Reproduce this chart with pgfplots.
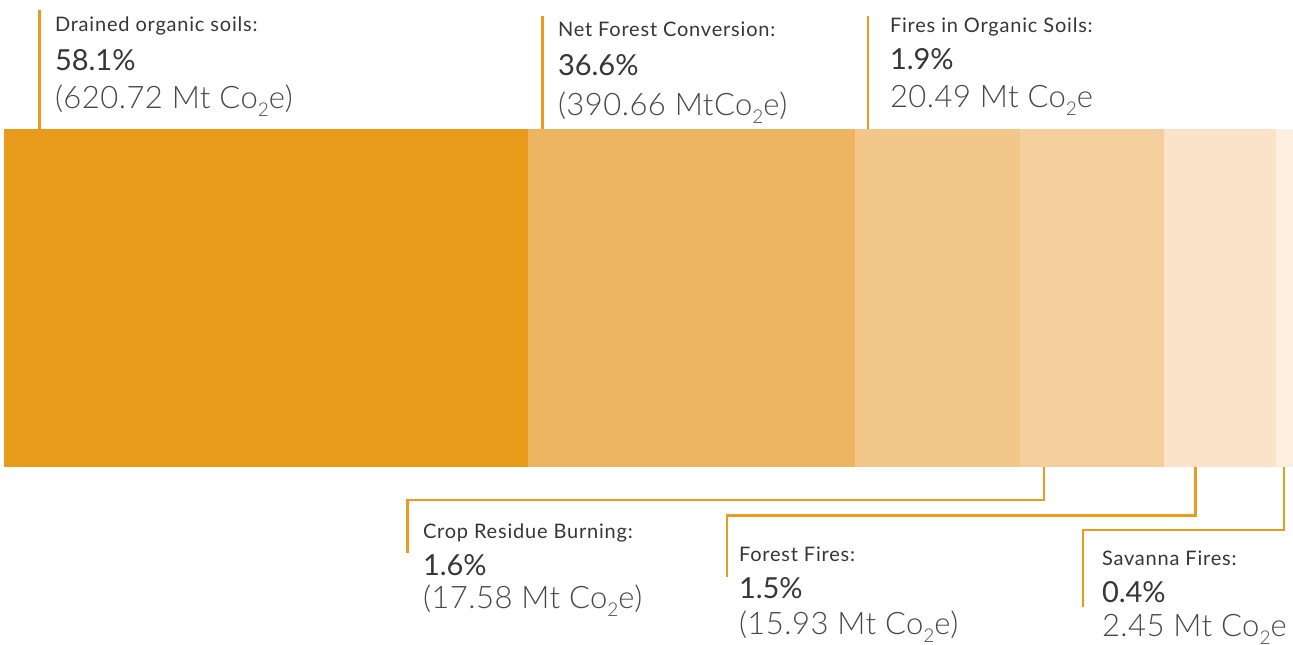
\documentclass[border=0pt]{standalone}
\usepackage{fontspec}
\setmainfont{Lato}
\newfontfamily\lightfont{Lato Light}
\usepackage{pgfplots}
\pgfplotsset{compat=1.18}
\definecolor{s1}{HTML}{E89B1A}
\definecolor{s2}{HTML}{EDB461}
\definecolor{s3}{HTML}{F3C68A}
\definecolor{s4}{HTML}{F4CF9E}
\definecolor{s5}{HTML}{FAE3C6}
\definecolor{s6}{HTML}{FCEFDF}
\definecolor{lead}{HTML}{E99A1F}
\definecolor{lab}{HTML}{363636}
\definecolor{mt}{HTML}{484848}
\newcommand{\lbl}[1]{{\fontsize{20bp}{23bp}\selectfont\addfontfeatures{LetterSpace=4}\color{lab}#1}}
\newcommand{\pct}[1]{{\fontsize{29bp}{33bp}\selectfont\color{lab}#1}}
\newcommand{\mtv}[1]{{\lightfont\fontsize{31bp}{35bp}\selectfont\addfontfeatures{LetterSpace=1.5}\color{mt}#1}}
\newcommand{\cotwo}{Co\raisebox{-0.26em}{\fontsize{19bp}{21bp}\selectfont 2}e}
\tikzset{ld/.style={line width=2.4bp, draw=lead}, tx/.style={anchor=base west, inner sep=0pt, outer sep=0pt}}
\begin{document}
\begin{tikzpicture}
\begin{axis}[
  at={(0,0)}, anchor=south west,
  width=1293bp, height=645bp, scale only axis,
  xmin=0, xmax=1293, ymin=0, ymax=645, y dir=reverse,
  axis lines=none, ticks=none, clip=false,
  xbar stacked, bar width=338,
]
\addplot[draw=none, fill=none] coordinates {(4,298)};
\addplot[draw=none, fill=s1] coordinates {(524,298)};
\addplot[draw=none, fill=s2] coordinates {(327,298)};
\addplot[draw=none, fill=s3] coordinates {(165,298)};
\addplot[draw=none, fill=s4] coordinates {(144,298)};
\addplot[draw=none, fill=s5] coordinates {(112,298)};
\addplot[draw=none, fill=s6] coordinates {(17,298)};

\draw[ld] (39.5,10) -- (39.5,129);
\draw[ld] (542.5,16) -- (542.5,166);
\draw[ld] (868,16) -- (868,166);
\draw[ld] (1044,446) -- (1044,500) -- (407.5,500) -- (407.5,553);
\draw[ld] (1195.5,454) -- (1195.5,515.5) -- (727,515.5) -- (727,577);
\draw[ld] (1284,454) -- (1284,530) -- (1083,530) -- (1083,607);

\node[tx] at (55,32) {\lbl{Drained organic soils:}};
\node[tx] at (55,71) {\pct{58.1\%}};
\node[tx] at (55,108) {\mtv{(620.72 Mt \cotwo)}};

\node[tx] at (558,37) {\lbl{Net Forest Conversion:}};
\node[tx] at (558,76) {\pct{36.6\%}};
\node[tx] at (558,115) {\mtv{(390.66 Mt\cotwo)}};

\node[tx] at (890,33) {\lbl{Fires in Organic Soils:}};
\node[tx] at (890,70) {\pct{1.9\%}};
\node[tx] at (890,107) {\mtv{20.49 Mt \cotwo}};

\node[tx] at (423,538) {\lbl{Crop Residue Burning:}};
\node[tx] at (423,575) {\pct{1.6\%}};
\node[tx] at (423,608) {\mtv{(17.58 Mt \cotwo)}};

\node[tx] at (739,561) {\lbl{Forest Fires:}};
\node[tx] at (739,598) {\pct{1.5\%}};
\node[tx] at (739,634) {\mtv{(15.93 Mt \cotwo)}};

\node[tx] at (1102,565) {\lbl{Savanna Fires:}};
\node[tx] at (1102,602) {\pct{0.4\%}};
\node[tx] at (1102,636) {\mtv{2.45 Mt \cotwo}};
\end{axis}
\pgfresetboundingbox
\useasboundingbox (0,0) rectangle (1293bp,645bp);
\end{tikzpicture}
\end{document}
